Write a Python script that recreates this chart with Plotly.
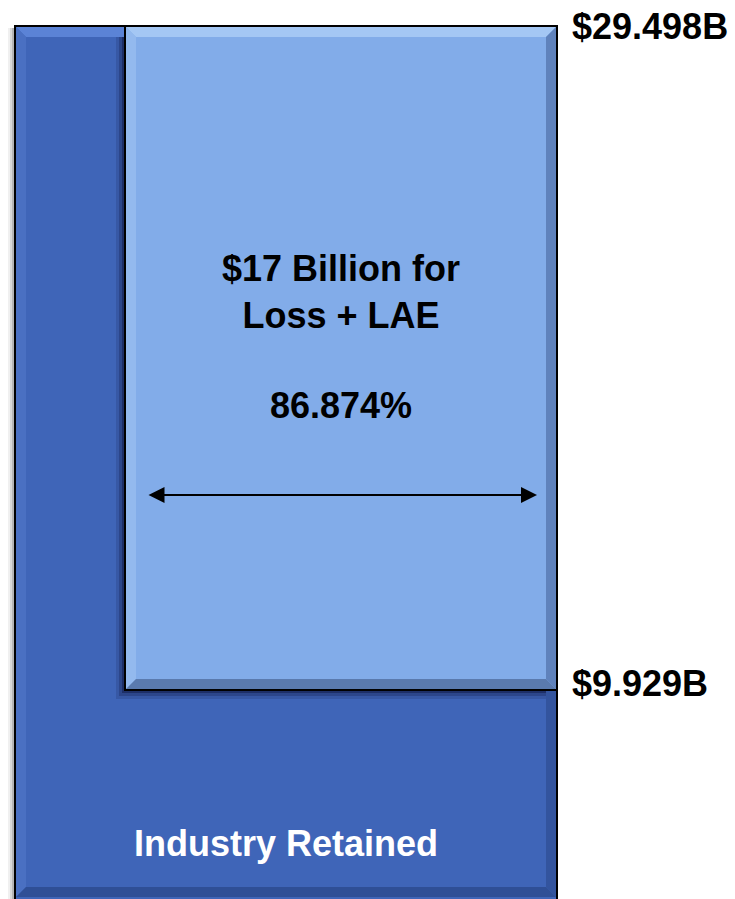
import plotly.graph_objects as go

# --- values (billions of dollars) ---
total_premium = 29.498        # top of both blocks
retained_level = 9.929        # bottom of the Loss + LAE block
loss_lae_billions = 17
loss_lae_pct = 86.874

top_label = "$29.498B"
mid_label = "$9.929B"
block_text = "$17 Billion for<br>Loss + LAE"
pct_text = f"{loss_lae_pct:.3f}%"
base_text = "Industry Retained"

# --- canvas / layout constants (pixels) ---
W, H = 735, 899
TOP_PX, MID_PX = 26, 690          # where total_premium and retained_level sit
# linear value scale fixed by those two anchors
per_px = (total_premium - retained_level) / (MID_PX - TOP_PX)
Y_TOP = total_premium + TOP_PX * per_px
Y_BOT = retained_level - (H - MID_PX) * per_px


def py(p):
    """pixel row -> y value"""
    return Y_TOP - p * per_px


def dy(p):
    """pixel height -> y span"""
    return p * per_px


DARK = "#3F65B8"
LIGHT = "#82ACE9"

OUT_L, OUT_R = 15, 557
IN_L, IN_R = 125, 557
FONT = "Liberation Sans, Arial, sans-serif"

fig = go.Figure()

# soft drop shadow around the outer block
for off, op in [(7, 0.06), (5, 0.10), (3, 0.16)]:
    fig.add_bar(x=[(OUT_L + OUT_R) / 2 - off], y=[total_premium - Y_BOT - dy(2)],
                base=[Y_BOT], width=[OUT_R - OUT_L],
                marker=dict(color=f"rgba(0,0,0,{op})", line=dict(width=0)),
                hoverinfo="skip", showlegend=False)

# outer block: whole retained amount
fig.add_bar(x=[(OUT_L + OUT_R) / 2], y=[total_premium - Y_BOT + dy(1)],
            base=[Y_BOT - dy(1)], width=[OUT_R - OUT_L],
            marker=dict(color=DARK, line=dict(color="black", width=2)),
            hoverinfo="skip", showlegend=False)

# shadow cast by the inner block onto the outer one
for off, op in [(9, 0.12), (6, 0.20), (3, 0.32)]:
    fig.add_bar(x=[(IN_L + IN_R) / 2 - off], y=[total_premium - retained_level + dy(off)],
                base=[retained_level - dy(off)], width=[IN_R - IN_L],
                marker=dict(color=f"rgba(0,0,30,{op})", line=dict(width=0)),
                hoverinfo="skip", showlegend=False)

# inner block: Loss + LAE
fig.add_bar(x=[(IN_L + IN_R) / 2], y=[total_premium - retained_level],
            base=[retained_level], width=[IN_R - IN_L],
            marker=dict(color=LIGHT, line=dict(color="black", width=2)),
            hoverinfo="skip", showlegend=False)


def poly(pts, color):
    path = "M " + " L ".join(f"{x},{py(y)}" for x, y in pts) + " Z"
    return dict(type="path", path=path, xref="x", yref="y",
                fillcolor=color, line=dict(width=0), layer="above")


shapes = []
b = 10  # bevel width in px
# bevel of outer block (only where it is not covered)
oy0, oy1 = TOP_PX + 1, H - 2
ol, orr = OUT_L + 1, OUT_R - 1
shapes.append(poly([(ol, oy0), (IN_L - 1, oy0), (IN_L - 1, oy0 + b), (ol + b, oy0 + b)], "#5B83D6"))
shapes.append(poly([(ol, oy0), (ol + b, oy0 + b), (ol + b, oy1 - b), (ol, oy1)], "#4A70C2"))
shapes.append(poly([(orr, MID_PX + 1), (orr, oy1), (orr - b, oy1 - b), (orr - b, MID_PX + 1)], "#33549E"))
shapes.append(poly([(ol, oy1), (orr, oy1), (orr - b, oy1 - b), (ol + b, oy1 - b)], "#2F4F96"))

# bevel of inner block
iy0, iy1 = TOP_PX + 1, MID_PX - 1
il, ir = IN_L + 1, IN_R - 1
shapes.append(poly([(il, iy0), (ir, iy0), (ir - b, iy0 + b), (il + b, iy0 + b)], "#A4C7F4"))
shapes.append(poly([(il, iy0), (il + b, iy0 + b), (il + b, iy1 - b), (il, iy1)], "#93B9EE"))
shapes.append(poly([(ir, iy0), (ir, iy1), (ir - b, iy1 - b), (ir - b, iy0 + b)], "#5F82BC"))
shapes.append(poly([(il, iy1), (ir, iy1), (ir - b, iy1 - b), (il + b, iy1 - b)], "#5A7AAE"))

# re-stroke the outlines on top of the bevels
shapes.append(dict(type="rect", xref="x", yref="y", x0=OUT_L, x1=OUT_R,
                   y0=py(H + 2), y1=py(TOP_PX), line=dict(color="black", width=2),
                   layer="above"))
shapes.append(dict(type="rect", xref="x", yref="y", x0=IN_L, x1=IN_R,
                   y0=retained_level, y1=total_premium, line=dict(color="black", width=2),
                   layer="above"))

annotations = [
    dict(x=341, y=py(292), text=f"<b>{block_text}</b>", showarrow=False,
         font=dict(family=FONT, size=36, color="black"), xanchor="center", yanchor="middle"),
    dict(x=341, y=py(405), text=f"<b>{pct_text}</b>", showarrow=False,
         font=dict(family=FONT, size=36, color="black"), xanchor="center", yanchor="middle"),
    dict(x=286, y=py(843), text=f"<b>{base_text}</b>", showarrow=False,
         font=dict(family=FONT, size=36, color="white"), xanchor="center", yanchor="middle"),
    dict(x=570, y=total_premium, text=f"<b>{top_label}</b>", showarrow=False,
         font=dict(family=FONT, size=36, color="black"), xanchor="left", yanchor="middle"),
    dict(x=570, y=retained_level, yshift=7, text=f"<b>{mid_label}</b>", showarrow=False,
         font=dict(family=FONT, size=36, color="black"), xanchor="left", yanchor="middle"),
    # double-headed width arrow
    dict(x=537, y=py(495), ax=147, ay=py(495), axref="x", ayref="y", xref="x", yref="y",
         text="", showarrow=True, arrowhead=2, startarrowhead=2, arrowside="end+start",
         arrowsize=1.6, startarrowsize=1.6, arrowwidth=2, arrowcolor="black"),
]

fig.update_layout(
    width=W, height=H, margin=dict(l=0, r=0, t=0, b=0),
    paper_bgcolor="white", plot_bgcolor="white",
    barmode="overlay", bargap=0, showlegend=False,
    xaxis=dict(range=[0, W], visible=False, fixedrange=True),
    yaxis=dict(range=[Y_BOT, Y_TOP], visible=False, fixedrange=True),
    shapes=shapes, annotations=annotations,
)

fig.write_html("out.html", config={"displayModeBar": False})
